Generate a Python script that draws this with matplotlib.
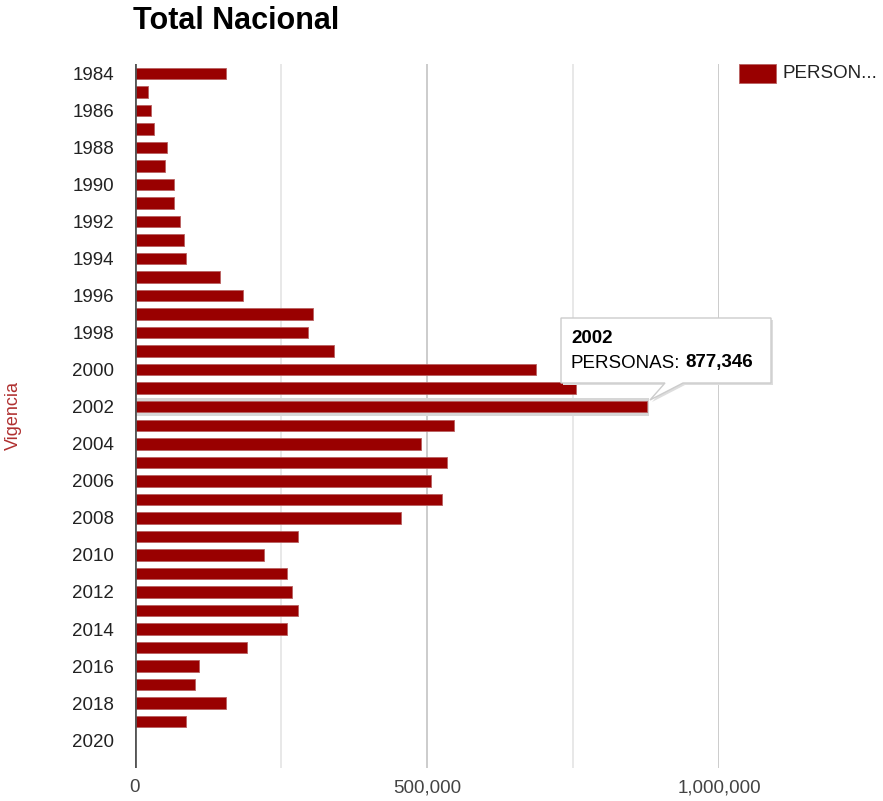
import matplotlib
matplotlib.use("Agg")
import matplotlib.pyplot as plt
from matplotlib.patches import Polygon, Rectangle
from matplotlib.ticker import FuncFormatter

# Data
years = list(range(1984, 2021))
personas = [156000, 23000, 27000, 33000, 55000, 51000, 66000, 67000, 77000, 84000,
            88000, 145000, 185000, 304000, 297000, 341000, 687000, 755000, 877346,
            546000, 489000, 535000, 507000, 525000, 456000, 279000, 221000, 261000,
            268000, 279000, 261000, 192000, 109000, 102000, 156000, 88000, 800]
tick_years = years[::2]
x_ticks = [0, 500000, 1000000]
x_minor = [250000, 750000]
hover_year = 2002

W, H = 883, 801
plt.rcParams['font.family'] = ['Liberation Sans', 'DejaVu Sans']
fig = plt.figure(figsize=(W / 100, H / 100), dpi=100)
fs = 13.5


def px(x, y):
    # figure pixel (top-left origin) -> figure fraction
    return (x / W, 1 - y / H)


ax = fig.add_axes([135 / W, 1 - 768 / H, 584 / W, 704 / H])
bar_color = '#990000'
pos = list(range(len(years)))

# hover highlight behind the 2002 bar
hi = years.index(hover_year)
ax.barh(hi, personas[hi] + 6000, height=0.95, left=-3000, color='#d6d6d6', zorder=1)
ax.barh(pos, personas, height=0.62, color=bar_color, edgecolor='#b86060',
        linewidth=0.6, zorder=3)

ax.set_ylim(37.5, -0.5)
ax.set_xlim(0, 1000000)
ax.set_yticks([years.index(y) for y in tick_years])
ax.set_yticklabels([str(y) for y in tick_years], fontsize=fs, color='#222222')
ax.set_xticks(x_ticks)
ax.xaxis.set_major_formatter(FuncFormatter(lambda v, p: f"{int(v):,}"))
ax.tick_params(axis='x', labelsize=fs, labelcolor='#444444', length=0, pad=8)
ax.tick_params(axis='y', length=0, pad=15)

for v in x_ticks[1:]:
    ax.axvline(v, color='#cccccc', lw=1.4, zorder=0)
for v in x_minor:
    ax.axvline(v, color='#e8e8e8', lw=1.4, zorder=0)
ax.axvline(0, color='#555555', lw=2, zorder=4)
for s in ax.spines.values():
    s.set_visible(False)

# title and axis title
fig.text(*px(133, 29), "Total Nacional", fontsize=22, fontweight='bold',
         ha='left', va='baseline', color='#000000')
fig.text(*px(13, 415), "Vigencia", fontsize=13, color='#b03030',
         rotation=90, ha='center', va='center')

# legend
fig.patches.append(Rectangle(px(739, 83), 37 / W, 19 / H, transform=fig.transFigure,
                             facecolor=bar_color, edgecolor='#b86060', lw=0.6))
fig.text(*px(783, 73), "PERSON...", fontsize=fs, color='#222222',
         ha='left', va='center')

# tooltip
tip = [(561, 318), (771, 318), (771, 383), (683, 383), (650, 400), (665, 383), (561, 383)]
shadow = Polygon([px(x + 2, y + 2) for x, y in tip], closed=True, transform=fig.transFigure,
                 facecolor='#dddddd', edgecolor='none', zorder=5)
box = Polygon([px(x, y) for x, y in tip], closed=True, transform=fig.transFigure,
              facecolor='white', edgecolor='#cccccc', lw=1, zorder=6)
fig.patches.extend([shadow, box])
fig.text(*px(571, 339), str(hover_year), fontsize=fs, fontweight='bold',
         ha='left', va='center', zorder=7)
lab = fig.text(*px(571, 363), "PERSONAS:", fontsize=fs, ha='left', va='center', zorder=7)
fig.canvas.draw()
ext = lab.get_window_extent()
fig.text((ext.x1 + 5) / W, 1 - 363 / H, f"{personas[hi]:,}", fontsize=fs,
         fontweight='bold', ha='left', va='center', zorder=7)

fig.savefig("out.png", dpi=100)
